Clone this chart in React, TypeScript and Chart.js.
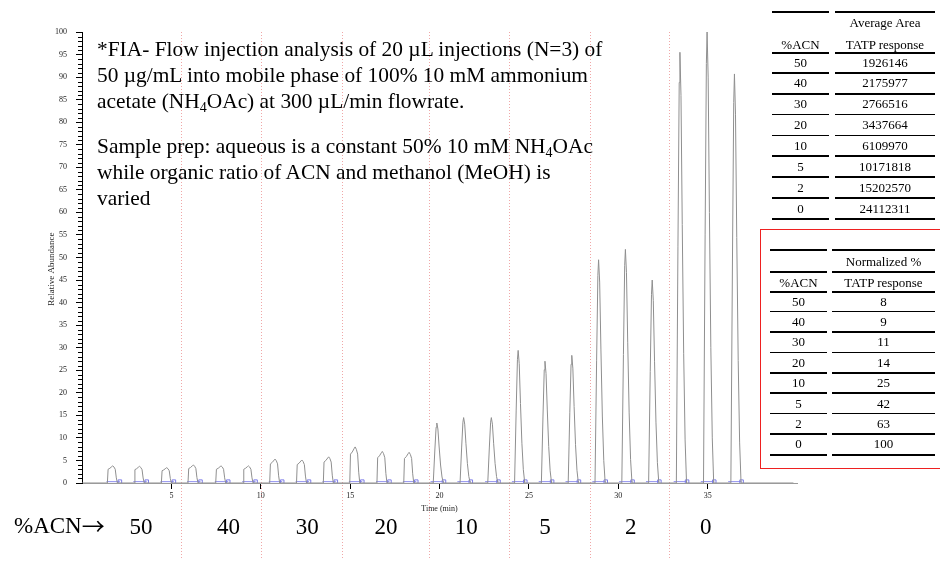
import React, { useEffect, useRef } from "react";
import { Chart, registerables } from "chart.js";

Chart.register(...registerables);

// ---- data ----
const peakTimes = [1.72, 3.22, 4.74, 6.23, 7.78, 9.31, 10.8, 12.3, 13.8, 15.28, 16.8, 18.3, 19.85, 21.35, 22.9, 24.4, 25.9, 27.4, 28.9, 30.4, 31.9, 33.45, 34.97, 36.5];
const peakHeights = [3.8, 3.7, 3.4, 4.0, 3.8, 3.8, 5.3, 5.1, 5.8, 8.0, 7.0, 6.8, 13.3, 14.5, 14.5, 29.4, 27.0, 28.3, 49.5, 51.8, 45.0, 95.5, 100, 90.7];
// peak shape profiles: offset from apex (min) and fraction of apex height
const flatShapeOffsets = [-0.3, -0.26, -0.16, -0.05, 0, 0.07, 0.14, 0.2, 0.26];
const flatShapeFractions = [0, 0.8, 0.86, 0.96, 1, 0.93, 0.8, 0.3, 0];
const sharpShapeOffsets = [-0.2, -0.11, -0.04, 0, 0.06, 0.13, 0.21, 0.29, 0.37];
const sharpShapeFractions = [0, 0.55, 0.93, 1, 0.9, 0.6, 0.3, 0.1, 0];
const traceEnd = 39.8;

const acnLevels = ["50", "40", "30", "20", "10", "5", "2", "0"];
const groupLabelTimes = [3.3, 8.2, 12.6, 17.0, 21.5, 25.9, 30.7, 34.9];
const separatorTimes = [5.54, 9.99, 14.54, 19.4, 23.9, 28.4, 32.85];
const xTickValues = [5, 10, 15, 20, 25, 30, 35];
const yTickValues = [0, 5, 10, 15, 20, 25, 30, 35, 40, 45, 50, 55, 60, 65, 70, 75, 80, 85, 90, 95, 100];
const yMinorTickValues = Array.from({ length: 101 }, (_, i) => i).filter((v) => v % 5 !== 0);
const yTitleValue = 47.4;

const tableAcn = ["50", "40", "30", "20", "10", "5", "2", "0"];
const avgArea = ["1926146", "2175977", "2766516", "3437664", "6109970", "10171818", "15202570", "24112311"];
const normalizedPct = ["8", "9", "11", "14", "25", "42", "63", "100"];

const SERIF = "'Liberation Serif', 'Times New Roman', serif";

function buildTrace() {
  const pts: { x: number; y: number }[] = [{ x: 0, y: 0 }];
  peakTimes.forEach((t, i) => {
    const h = peakHeights[i];
    const offs = h < 10 ? flatShapeOffsets : sharpShapeOffsets;
    const fr = h < 10 ? flatShapeFractions : sharpShapeFractions;
    offs.forEach((d, j) => pts.push({ x: t + d, y: h * fr[j] }));
  });
  pts.push({ x: traceEnd, y: 0 });
  return pts;
}

function buildIntegration() {
  const pts: any[] = [];
  peakTimes.forEach((t) => {
    pts.push({ x: t - 0.35, y: 0.3, m: 0 });
    pts.push({ x: t + 0.4, y: 0.3, m: 1 });
    pts.push({ x: t + 0.42, y: null, m: 0 });
  });
  return pts;
}

const overlayPlugin = {
  id: "overlay",
  beforeDatasetsDraw(chart: any) {
    const { ctx, scales, chartArea } = chart;
    const xs = scales.x;
    ctx.save();
    ctx.strokeStyle = "rgba(232,120,120,0.65)";
    ctx.lineWidth = 1;
    ctx.setLineDash([1, 2]);
    separatorTimes.forEach((t) => {
      const px = Math.round(xs.getPixelForValue(t)) + 0.5;
      ctx.beginPath();
      ctx.moveTo(px, chartArea.top);
      ctx.lineTo(px, 560);
      ctx.stroke();
    });
    ctx.restore();
  },
  afterDraw(chart: any) {
    const { ctx, scales, chartArea } = chart;
    const ys = scales.y;
    const xs = scales.x;
    ctx.save();
    ctx.strokeStyle = "#000";
    ctx.lineWidth = 1;
    yMinorTickValues.forEach((v) => {
      const py = Math.round(ys.getPixelForValue(v)) + 0.5;
      ctx.beginPath();
      ctx.moveTo(chartArea.left - 4, py);
      ctx.lineTo(chartArea.left, py);
      ctx.stroke();
    });
    // y axis title
    ctx.save();
    ctx.fillStyle = "#222";
    ctx.font = `9px ${SERIF}`;
    ctx.textAlign = "center";
    ctx.textBaseline = "middle";
    ctx.translate(52, ys.getPixelForValue(yTitleValue));
    ctx.rotate(-Math.PI / 2);
    ctx.fillText("Relative Abundance", 0, 0);
    ctx.restore();
    // %ACN labels
    ctx.fillStyle = "#000";
    ctx.textBaseline = "middle";
    ctx.textAlign = "left";
    ctx.font = `23px ${SERIF}`;
    ctx.fillText("%ACN", 14, 527);
    const w = ctx.measureText("%ACN").width;
    ctx.font = `23px 'Noto Sans CJK SC', 'DejaVu Sans'`;
    ctx.fillText("\u2192", 14 + w, 526);
    ctx.textAlign = "center";
    ctx.font = `23px ${SERIF}`;
    acnLevels.forEach((lab, i) => {
      ctx.fillText(lab, xs.getPixelForValue(groupLabelTimes[i]), 528);
    });
    ctx.restore();
  },
};

type TableProps = {
  col1: [number, number];
  col2: [number, number];
  topRule: number;
  header: string;
  headerY: number;
  midRule?: number;
  subHeaderY: number;
  headerRule: number;
  rowStart: number;
  pitch: number;
  values: string[];
};

function Rule(props: { x: number; w: number; y: number; t: number }) {
  return (
    <div
      style={{
        position: "absolute",
        left: props.x,
        width: props.w,
        top: props.y - props.t / 2,
        height: props.t,
        background: "#000",
      }}
    />
  );
}

function Txt(props: { x: number; w: number; y: number; children: any }) {
  return (
    <div
      style={{
        position: "absolute",
        left: props.x,
        width: props.w,
        top: props.y - 8,
        height: 16,
        lineHeight: "16px",
        textAlign: "center",
        fontFamily: SERIF,
        fontSize: 13,
        color: "#000",
        whiteSpace: "nowrap",
      }}
    >
      {props.children}
    </div>
  );
}

function RuleTable(p: TableProps) {
  const [x1, w1] = p.col1;
  const [x2, w2] = p.col2;
  const both = (y: number, t: number, k: string) => [
    <Rule key={k + "a"} x={x1} w={w1} y={y} t={t} />,
    <Rule key={k + "b"} x={x2} w={w2} y={y} t={t} />,
  ];
  return (
    <>
      {both(p.topRule, 1.6, "top")}
      <Txt x={x2} w={w2} y={p.headerY}>{p.header}</Txt>
      {p.midRule !== undefined ? both(p.midRule, 2.2, "mid") : null}
      <Txt x={x1} w={w1} y={p.subHeaderY}>%ACN</Txt>
      <Txt x={x2} w={w2} y={p.subHeaderY}>TATP response</Txt>
      {both(p.headerRule, p.midRule !== undefined ? 1.6 : 2.2, "hdr")}
      {p.values.map((v, i) => {
        const cy = p.rowStart + i * p.pitch;
        return (
          <React.Fragment key={i}>
            <Txt x={x1} w={w1} y={cy}>{tableAcn[i]}</Txt>
            <Txt x={x2} w={w2} y={cy}>{v}</Txt>
            {both(cy + p.pitch / 2, i % 3 === 1 ? 2 : 1.5, "r" + i)}
          </React.Fragment>
        );
      })}
    </>
  );
}

export default function App() {
  const canvasRef = useRef<HTMLCanvasElement | null>(null);

  useEffect(() => {
    const canvas = canvasRef.current;
    if (!canvas) return;
    const chart = new Chart(canvas, {
      type: "line",
      data: {
        datasets: [
          {
            label: "TIC",
            data: buildTrace(),
            borderColor: "#8f8f8f",
            borderWidth: 1,
            pointRadius: 0,
            tension: 0,
            fill: false,
          },
          {
            label: "integration",
            data: buildIntegration(),
            borderColor: "#8d8def",
            borderWidth: 1,
            pointStyle: "rect",
            pointRadius: (ctx: any) => (ctx.raw && ctx.raw.m ? 2.5 : 0),
            pointBorderColor: "#7d7de8",
            pointBackgroundColor: "rgba(255,255,255,0)",
            pointBorderWidth: 1,
            spanGaps: false,
            fill: false,
          },
        ],
      },
      options: {
        animation: false,
        responsive: false,
        devicePixelRatio: 1,
        layout: { padding: { left: 40, top: 32, right: 143, bottom: 60 } },
        plugins: {
          legend: { display: false },
          tooltip: { enabled: false },
        },
        scales: {
          x: {
            type: "linear",
            min: 0,
            max: 40,
            afterFit: (s: any) => {
              s.height = 32;
            },
            afterBuildTicks: (s: any) => {
              s.ticks = xTickValues.map((v) => ({ value: v }));
            },
            grid: {
              drawOnChartArea: false,
              drawTicks: true,
              tickLength: 6,
              tickColor: "#000",
            },
            border: { display: true, color: "#9a9a9a" },
            ticks: {
              autoSkip: false,
              maxRotation: 0,
              padding: 2,
              color: "#222",
              font: { family: SERIF, size: 8 },
            },
            title: {
              display: true,
              text: "Time (min)",
              color: "#222",
              font: { family: SERIF, size: 8 },
              padding: { top: 0, bottom: 1 },
            },
          },
          y: {
            type: "linear",
            min: 0,
            max: 100,
            afterFit: (s: any) => {
              s.width = 42;
            },
            afterBuildTicks: (s: any) => {
              s.ticks = yTickValues.map((v) => ({ value: v }));
            },
            grid: {
              drawOnChartArea: false,
              drawTicks: true,
              tickLength: 6,
              tickColor: "#000",
            },
            border: { display: true, color: "#000", width: 1 },
            ticks: {
              autoSkip: false,
              padding: 9,
              color: "#222",
              font: { family: SERIF, size: 8 },
            },
            title: { display: false },
          },
        },
      } as any,
      plugins: [overlayPlugin],
    });
    return () => chart.destroy();
  }, []);

  const textStyle: React.CSSProperties = {
    position: "absolute",
    left: 97,
    fontFamily: SERIF,
    fontSize: 21.4,
    lineHeight: "26px",
    color: "#000",
    whiteSpace: "nowrap",
    margin: 0,
  };
  const sub: React.CSSProperties = { fontSize: 14, verticalAlign: "-4px", lineHeight: 0 };

  return (
    <div
      style={{
        position: "absolute",
        left: 0,
        top: 0,
        width: 940,
        height: 575,
        overflow: "hidden",
        background: "#fff",
      }}
    >
      <canvas ref={canvasRef} width={940} height={575} style={{ position: "absolute", left: 0, top: 0 }} />
      <div style={{ ...textStyle, top: 36 }}>
        *FIA- Flow injection analysis of 20 µL injections (N=3) of
        <br />
        50 µg/mL into mobile phase of 100% 10 mM ammonium
        <br />
        acetate (NH<span style={sub}>4</span>OAc) at 300 µL/min flowrate.
      </div>
      <div style={{ ...textStyle, top: 133 }}>
        Sample prep: aqueous is a constant 50% 10 mM NH<span style={sub}>4</span>OAc
        <br />
        while organic ratio of ACN and methanol (MeOH) is
        <br />
        varied
      </div>
      <RuleTable
        col1={[772, 57]}
        col2={[835, 100]}
        topRule={12}
        header="Average Area"
        headerY={22.5}
        subHeaderY={45}
        headerRule={53}
        rowStart={62.5}
        pitch={20.86}
        values={avgArea}
      />
      <div
        style={{
          position: "absolute",
          left: 760,
          top: 229,
          width: 200,
          height: 240,
          border: "1.5px solid #ee2020",
          boxSizing: "border-box",
        }}
      />
      <RuleTable
        col1={[770, 57]}
        col2={[832, 103]}
        topRule={250}
        header="Normalized %"
        headerY={261.5}
        midRule={272}
        subHeaderY={283}
        headerRule={292}
        rowStart={301.5}
        pitch={20.4}
        values={normalizedPct}
      />
    </div>
  );
}
